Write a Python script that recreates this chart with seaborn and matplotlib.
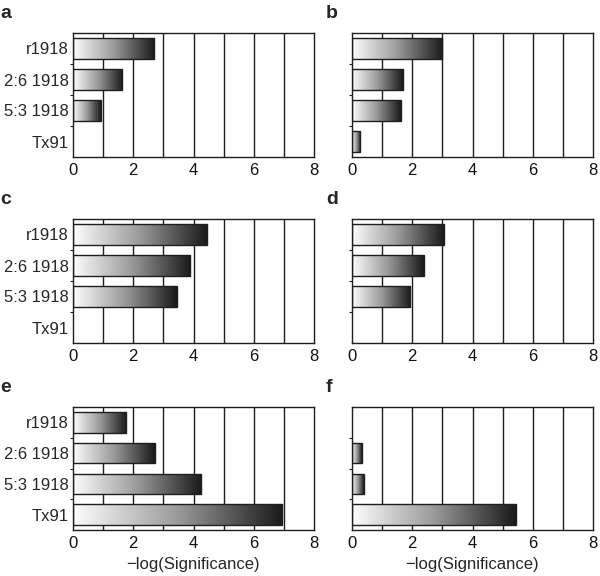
import numpy as np
import pandas as pd
import matplotlib
matplotlib.use("Agg")
import matplotlib.pyplot as plt
from matplotlib.colors import LinearSegmentedColormap
import seaborn as sns

sns.set_theme(style="white")
plt.rcParams['font.family'] = ['Liberation Sans', 'DejaVu Sans']

categories = ["r1918", "2:6 1918", "5:3 1918", "Tx91"]
panel_letters = ["a", "b", "c", "d", "e", "f"]
vals_a = [2.69, 1.63, 0.92, 0.0]
vals_b = [3.00, 1.68, 1.62, 0.27]
vals_c = [4.44, 3.90, 3.45, 0.0]
vals_d = [3.04, 2.38, 1.93, 0.0]
vals_e = [1.77, 2.72, 4.26, 6.94]
vals_f = [0.0, 0.33, 0.39, 5.43]
x_ticks = [0, 2, 4, 6, 8]
x_label = "\u2212log(Significance)"

panels = [vals_a, vals_b, vals_c, vals_d, vals_e, vals_f]

cmap = LinearSegmentedColormap.from_list("grad", ["#fdfdfd", "#9a9a9a", "#1a1a1a"])
line_col = "#1e1e1e"
fs = 12

fig = plt.figure(figsize=(6.0, 5.76), dpi=100)
lefts = [73 / 600, 352 / 600]
w = 241 / 600
tops = [33, 219, 407]
bottoms = [157, 343, 530]

for i, (letter, vals) in enumerate(zip(panel_letters, panels)):
    r, c = divmod(i, 2)
    top, bot = tops[r], bottoms[r]
    ax = fig.add_axes([lefts[c], 1 - bot / 576, w, (bot - top) / 576])
    df = pd.DataFrame({"cat": categories, "val": vals})
    sns.barplot(data=df, x="val", y="cat", orient="h", ax=ax, color="white",
                edgecolor=line_col, linewidth=1.0, width=0.66, saturation=1)
    ax.set_xlim(0, 8)
    ax.set_ylim(3.5, -0.5)
    for g in range(1, 8):
        ax.axvline(g, color=line_col, lw=1.0, zorder=0.5)
    grad = np.linspace(0, 1, 256).reshape(1, -1)
    for p in list(ax.patches):
        px, py = p.get_x(), p.get_y()
        pw, ph = p.get_width(), p.get_height()
        if pw <= 0:
            p.set_visible(False)
            continue
        im = ax.imshow(grad, cmap=cmap, aspect="auto",
                       extent=[px, px + pw, py + ph, py], zorder=2)
        im.set_clip_path(p)
        p.set_zorder(3)
        p.set_facecolor("none")
    ax.set_xlim(0, 8)
    ax.set_ylim(3.5, -0.5)
    ax.set_xticks(x_ticks)
    ax.set_xticklabels([str(t) for t in x_ticks], fontsize=fs)
    ax.tick_params(axis="x", length=0, pad=4, colors="#111111")
    ax.set_yticks([0, 1, 2, 3])
    ax.set_yticks([0.5, 1.5, 2.5], minor=True)
    ax.tick_params(axis="y", which="major", length=0, pad=3)
    ax.tick_params(axis="y", which="minor", length=2, width=0.8, color=line_col, left=True)
    if c == 0:
        ax.set_yticklabels(categories, fontsize=fs)
    else:
        ax.set_yticklabels([])
    ax.set_ylabel("")
    if r == 2:
        ax.set_xlabel(x_label, fontsize=fs, labelpad=5)
    else:
        ax.set_xlabel("")
    for s in ax.spines.values():
        s.set_visible(True)
        s.set_color(line_col)
        s.set_linewidth(1.0)
    lx = 0 / 600 if c == 0 else 326 / 600
    ly = 1 - (top - 20) / 576
    fig.text(lx, ly, letter, fontsize=14, fontweight="bold", va="center", ha="left")

fig.savefig("out.png", dpi=100)
